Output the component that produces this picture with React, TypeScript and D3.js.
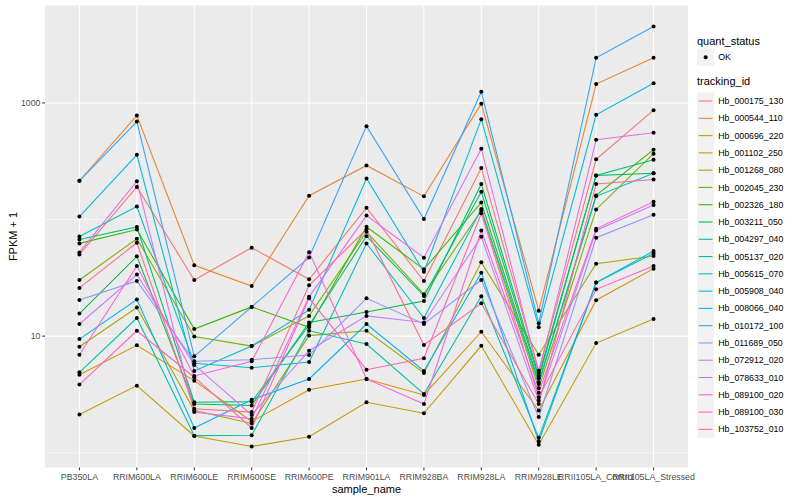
import * as d3 from "d3";

// sample order on the x axis
const samples = [
  "PB350LA",
  "RRIM600LA",
  "RRIM600LE",
  "RRIM600SE",
  "RRIM600PE",
  "RRIM901LA",
  "RRIM928BA",
  "RRIM928LA",
  "RRIM928LE",
  "RRII105LA_Control",
  "RRII105LA_Stressed",
];

const trackingIds = [
  "Hb_000175_130",
  "Hb_000544_110",
  "Hb_000696_220",
  "Hb_001102_250",
  "Hb_001268_080",
  "Hb_002045_230",
  "Hb_002326_180",
  "Hb_003211_050",
  "Hb_004297_040",
  "Hb_005137_020",
  "Hb_005615_070",
  "Hb_005908_040",
  "Hb_008066_040",
  "Hb_010172_100",
  "Hb_011689_050",
  "Hb_072912_020",
  "Hb_078633_010",
  "Hb_089100_020",
  "Hb_089100_030",
  "Hb_103752_010",
];

// FPKM + 1, one row per tracking id, one column per sample
const fpkmPlusOne: number[][] = [
  [50.2, 190, 30.3, 57.3, 30.7, 126, 29.7, 277, 5.05, 328, 866],
  [215, 779, 40.5, 26.9, 160, 291, 158, 986, 16.5, 1453, 2439],
  [4.67, 8.33, 4.15, 1.85, 3.46, 4.29, 3.13, 10.9, 2.3, 20.3, 37.9],
  [2.13, 3.76, 1.39, 1.13, 1.37, 2.71, 2.18, 8.26, 1.17, 8.71, 14.0],
  [8.1, 17.6, 2.3, 1.78, 10.1, 11.1, 4.83, 42.9, 6.92, 41.8, 48.6],
  [30.3, 68.4, 9.94, 8.21, 14.9, 78.5, 22.9, 119, 3.57, 122, 367],
  [62.4, 82.1, 11.5, 17.8, 11.9, 86.6, 37.4, 140, 4.02, 161, 397],
  [15.6, 48.3, 2.62, 2.54, 13.1, 16.1, 20.0, 202, 4.58, 239, 249],
  [67.5, 86.3, 2.71, 2.74, 12.4, 72.0, 22.1, 173, 4.35, 239, 326],
  [4.89, 14.3, 1.4, 1.41, 11.1, 8.54, 3.19, 22.0, 1.34, 28.8, 53.6],
  [71.6, 129, 5.84, 5.36, 5.99, 62.4, 14.3, 123, 3.89, 158, 249],
  [106, 359, 5.02, 8.21, 16.8, 225, 35.6, 726, 11.9, 790, 1473],
  [9.43, 20.6, 1.63, 2.85, 4.29, 12.7, 5.02, 34.9, 1.25, 28.8, 51.2],
  [215, 692, 6.71, 17.8, 47.3, 632, 101, 1249, 12.9, 2439, 4524],
  [20.4, 29.7, 6.08, 6.27, 6.88, 21.1, 12.7, 30.3, 2.02, 69.8, 110],
  [12.7, 33.7, 5.65, 2.11, 7.49, 14.9, 13.1, 71.1, 2.8, 80.5, 133],
  [52.2, 213, 2.23, 1.95, 21.7, 108, 47.1, 405, 4.83, 483, 554],
  [6.92, 39.9, 4.55, 6.08, 52.5, 4.29, 2.62, 80.5, 3.26, 83.3, 142],
  [3.84, 11.1, 4.44, 1.63, 21.1, 5.15, 6.45, 113, 2.99, 25.2, 39.9],
  [25.9, 63.2, 2.38, 2.23, 27.3, 82.1, 8.38, 19.1, 2.62, 202, 220],
];

const quantStatus = ["OK"];
const yTicks = [10, 1000];
const yMinor = [1, 100, 10000];

// ggplot2 hue palette for 20 levels
const hues = [
  "#F8766D", "#EA8331", "#D89000", "#C09B00", "#A3A500",
  "#7CAE00", "#39B600", "#00BB4E", "#00BF7D", "#00C1A3",
  "#00BFC4", "#00BAE0", "#00B0F6", "#35A2FF", "#9590FF",
  "#C77CFF", "#E76BF3", "#FA62DB", "#FF62BC", "#FF6C91",
];

const W = 800;
const H = 500;
const panel = { left: 45, right: 688, top: 5.5, bottom: 467.5 };
const font = "'Liberation Sans', Arial, Helvetica, sans-serif";

const App = () => {
  document.body.style.margin = "0";

  const x = d3
    .scalePoint<string>()
    .domain(samples)
    .range([panel.left, panel.right])
    .padding(0.6);

  const logs = fpkmPlusOne.flat().map(Math.log10);
  const [lo, hi] = d3.extent(logs) as [number, number];
  const pad = (hi - lo) * 0.05;
  const y = d3
    .scaleLog()
    .domain([10 ** (lo - pad), 10 ** (hi + pad)])
    .range([panel.bottom, panel.top]);
  const [dMin, dMax] = y.domain();

  const line = d3
    .line<number>()
    .x((_, i) => x(samples[i])!)
    .y((d) => y(d));

  const keySize = 17.28;
  const legendX = 697;
  const firstKey = 92.4;

  return (
    <svg width={W} height={H} style={{ display: "block", fontFamily: font }}>
      <rect x={0} y={0} width={W} height={H} fill="#fff" />
      <rect
        x={panel.left}
        y={panel.top}
        width={panel.right - panel.left}
        height={panel.bottom - panel.top}
        fill="#EBEBEB"
      />
      {/* grid */}
      {yMinor
        .filter((v) => v > dMin && v < dMax)
        .map((v) => (
          <line key={"mn" + v} x1={panel.left} x2={panel.right} y1={y(v)} y2={y(v)} stroke="#fff" strokeWidth={0.53} />
        ))}
      {yTicks.map((v) => (
        <line key={"mj" + v} x1={panel.left} x2={panel.right} y1={y(v)} y2={y(v)} stroke="#fff" strokeWidth={1.07} />
      ))}
      {samples.map((s) => (
        <line key={"gx" + s} x1={x(s)} x2={x(s)} y1={panel.top} y2={panel.bottom} stroke="#fff" strokeWidth={1.07} />
      ))}

      {/* series */}
      {fpkmPlusOne.map((row, i) => (
        <path key={trackingIds[i]} d={line(row)!} fill="none" stroke={hues[i]} strokeWidth={1.07} />
      ))}
      {fpkmPlusOne.map((row, i) =>
        row.map((v, j) => (
          <circle key={i + "-" + j} cx={x(samples[j])} cy={y(v)} r={2} fill="#000" />
        ))
      )}

      {/* y axis */}
      {yTicks.map((v) => (
        <g key={"yt" + v}>
          <line x1={panel.left - 2.75} x2={panel.left} y1={y(v)} y2={y(v)} stroke="#333" strokeWidth={1.07} />
          <text x={panel.left - 4.5} y={y(v)} dy="0.35em" textAnchor="end" fontSize={8.8} fill="#4D4D4D">
            {v}
          </text>
        </g>
      ))}
      <text
        transform={`translate(13,${(panel.top + panel.bottom) / 2}) rotate(-90)`}
        textAnchor="middle"
        dy="0.35em"
        fontSize={11}
        fill="#000"
      >
        FPKM + 1
      </text>

      {/* x axis */}
      {samples.map((s) => (
        <g key={"xt" + s}>
          <line x1={x(s)} x2={x(s)} y1={panel.bottom} y2={panel.bottom + 2.75} stroke="#333" strokeWidth={1.07} />
          <text x={x(s)} y={panel.bottom + 12} textAnchor="middle" fontSize={8.8} fill="#4D4D4D">
            {s}
          </text>
        </g>
      ))}
      <text
        x={(panel.left + panel.right) / 2}
        y={493}
        textAnchor="middle"
        fontSize={11}
        fill="#000"
      >
        sample_name
      </text>

      {/* legend: quant_status */}
      <text x={legendX} y={45} fontSize={11} fill="#000">
        quant_status
      </text>
      {quantStatus.map((q, i) => (
        <g key={q} transform={`translate(${legendX},${48.5 + i * keySize})`}>
          <rect width={keySize} height={keySize} fill="#F2F2F2" />
          <circle cx={keySize / 2} cy={keySize / 2} r={2} fill="#000" />
          <text x={keySize + 4} y={keySize / 2} dy="0.35em" fontSize={8.8} fill="#000">
            {q}
          </text>
        </g>
      ))}

      {/* legend: tracking_id */}
      <text x={legendX} y={85} fontSize={11} fill="#000">
        tracking_id
      </text>
      {trackingIds.map((id, i) => (
        <g key={id} transform={`translate(${legendX},${firstKey + i * keySize})`}>
          <rect width={keySize} height={keySize} fill="#F2F2F2" />
          <line x1={1.7} x2={keySize - 1.7} y1={keySize / 2} y2={keySize / 2} stroke={hues[i]} strokeWidth={1.07} />
          <text x={keySize + 4} y={keySize / 2} dy="0.35em" fontSize={8.8} fill="#000">
            {id}
          </text>
        </g>
      ))}
    </svg>
  );
};

export default App;
